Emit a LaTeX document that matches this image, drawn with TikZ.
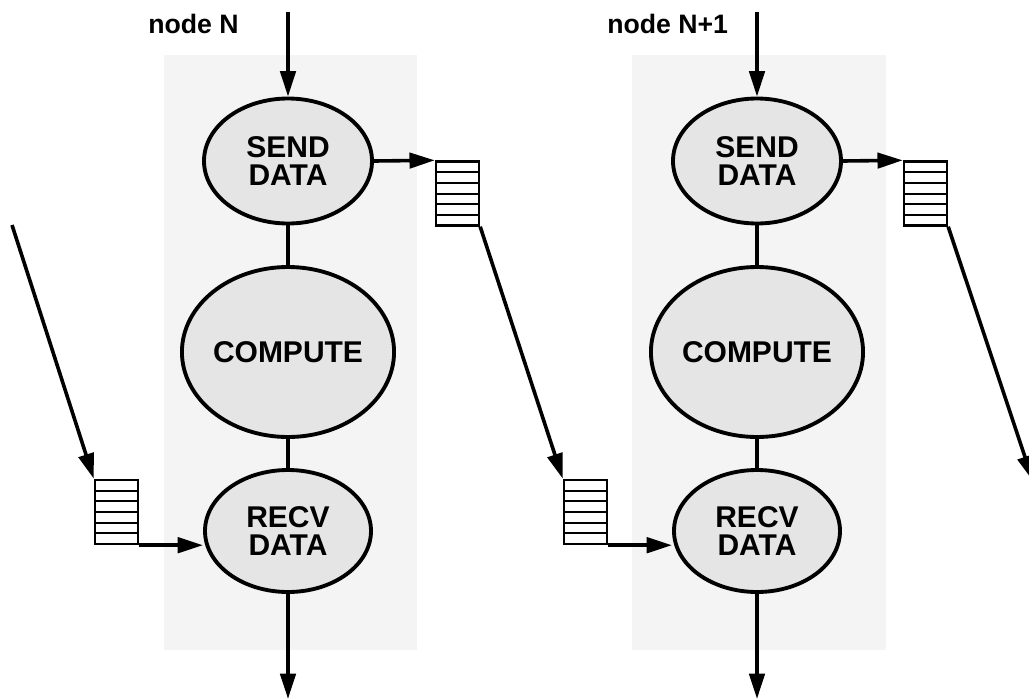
\documentclass[tikz,border=0pt]{standalone}
\usepackage{fontspec}
\setmainfont{Liberation Sans}
\usetikzlibrary{shapes.geometric,arrows.meta,calc}

\definecolor{panelgray}{HTML}{F4F4F4}
\definecolor{procgray}{HTML}{E5E5E5}

\tikzset{
  proc/.style={ellipse, draw, fill=procgray, line width=2.9pt, inner sep=0pt,
    align=center, font=\fontsize{22.5}{21.5}\selectfont\bfseries},
  link/.style={line width=2.7pt},
  arr/.style={line width=2.7pt, -{Triangle[length=19pt,width=11.5pt]}},
  label/.style={anchor=base west, inner sep=0pt, font=\fontsize{20}{20}\selectfont\bfseries},
  queue/.style={rectangle, draw, line width=1.8pt, fill=white, inner sep=0pt,
    minimum width=43*0.75pt, minimum height=64*0.75pt,
    path picture={
      \foreach \i in {1,...,5}
        \draw[line width=1.5pt]
          ($(path picture bounding box.north west)!\i/6!(path picture bounding box.south west)$) --
          ($(path picture bounding box.north east)!\i/6!(path picture bounding box.south east)$);
    }},
}

\begin{document}
\begin{tikzpicture}[x=0.75pt,y=-0.75pt]
\useasboundingbox (0,0) rectangle (1029,700);

% node panels
\fill[panelgray] (164,55) rectangle (417,650);
\fill[panelgray] (632,55) rectangle (886,650);

% node N
\node[label] (labN) at (148,33) {node N};
\node[proc, minimum width=168*0.75pt, minimum height=125*0.75pt] (send1) at (288,161) {SEND\\DATA};
\node[proc, minimum width=210*0.75pt, minimum height=170*0.75pt] (comp1) at (288,352) {COMPUTE};
\node[proc, minimum width=166*0.75pt, minimum height=122*0.75pt] (recv1) at (288,531) {RECV\\DATA};
\node[queue] (qL1) at (116.5,512) {};
\node[queue] (qR1) at (457.5,193.5) {};

% node N+1
\node[label] (labN1) at (607,33) {node N+1};
\node[proc, minimum width=168*0.75pt, minimum height=125*0.75pt] (send2) at (757,161) {SEND\\DATA};
\node[proc, minimum width=210*0.75pt, minimum height=170*0.75pt] (comp2) at (757,352) {COMPUTE};
\node[proc, minimum width=166*0.75pt, minimum height=122*0.75pt] (recv2) at (757,531) {RECV\\DATA};
\node[queue] (qL2) at (585.5,512) {};
\node[queue] (qR2) at (925.5,193.5) {};

% free ends
\coordinate (in1) at (288,12);
\coordinate (in2) at (757,12);
\coordinate (out1) at (288,699);
\coordinate (out2) at (757,699);
\coordinate (fromprev) at (12,225);
\coordinate (tonext) at (1033,481);

% control flow inside each node
\draw[arr] (in1) -- (send1.north);
\draw[link] (send1) -- (comp1);
\draw[link] (comp1) -- (recv1);
\draw[arr] (recv1.south) -- (out1);

\draw[arr] (in2) -- (send2.north);
\draw[link] (send2) -- (comp2);
\draw[link] (comp2) -- (recv2);
\draw[arr] (recv2.south) -- (out2);

% message queues between nodes
\draw[arr] (fromprev) -- (qL1.north west);
\draw[arr] (qL1.south east) -- (qL1.south east -| recv1.west);
\draw[arr] (send1.east) -- (qR1.north west);
\draw[arr] (qR1.south east) -- (qL2.north west);
\draw[arr] (qL2.south east) -- (qL2.south east -| recv2.west);
\draw[arr] (send2.east) -- (qR2.north west);
\draw[arr] (qR2.south east) -- (tonext);
\end{tikzpicture}
\end{document}
